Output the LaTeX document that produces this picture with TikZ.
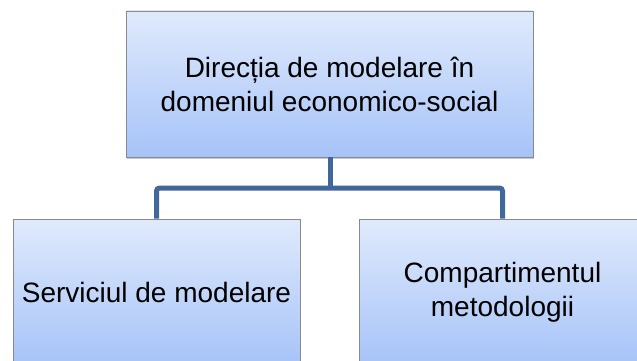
\documentclass[tikz,border=0pt]{standalone}
\usepackage{fontspec}
\setmainfont{Liberation Sans}
\usetikzlibrary{shadows}
\definecolor{boxtop}{HTML}{E0EAFC}
\definecolor{boxbot}{HTML}{A6C3F8}
\definecolor{boxline}{HTML}{8A8A8A}
\definecolor{connblue}{HTML}{42679B}
\tikzset{
  orgbox/.style={draw=boxline, line width=0.8pt, top color=boxtop, bottom color=boxbot,
    minimum height=146pt, inner sep=0pt, align=center,
    font=\fontsize{28}{34}\selectfont,
    drop shadow={shadow xshift=1pt, shadow yshift=-2pt, opacity=0.35, fill=black!60}},
  conn/.style={draw=connblue, line width=5pt, rounded corners=3pt}
}
\begin{document}
\begin{tikzpicture}[x=1pt,y=-1pt]
\useasboundingbox (0,0) rectangle (637,361);
\clip (0,0) rectangle (637,361);
\fill[white] (0,0) rectangle (637,361);
\node[orgbox, minimum width=407pt] (top) at (329.5,84) {Direcția de modelare în\\domeniul economico-social};
\node[orgbox, minimum width=287pt] (left) at (156.5,292) {Serviciul de modelare};
\node[orgbox, minimum width=287pt] (right) at (502.5,292) {Compartimentul\\metodologii};
\coordinate (j) at (330,188);
\draw[conn] (left.north) |- (j) -| (right.north);
\draw[conn] (330,157) -- (j);
\end{tikzpicture}
\end{document}
